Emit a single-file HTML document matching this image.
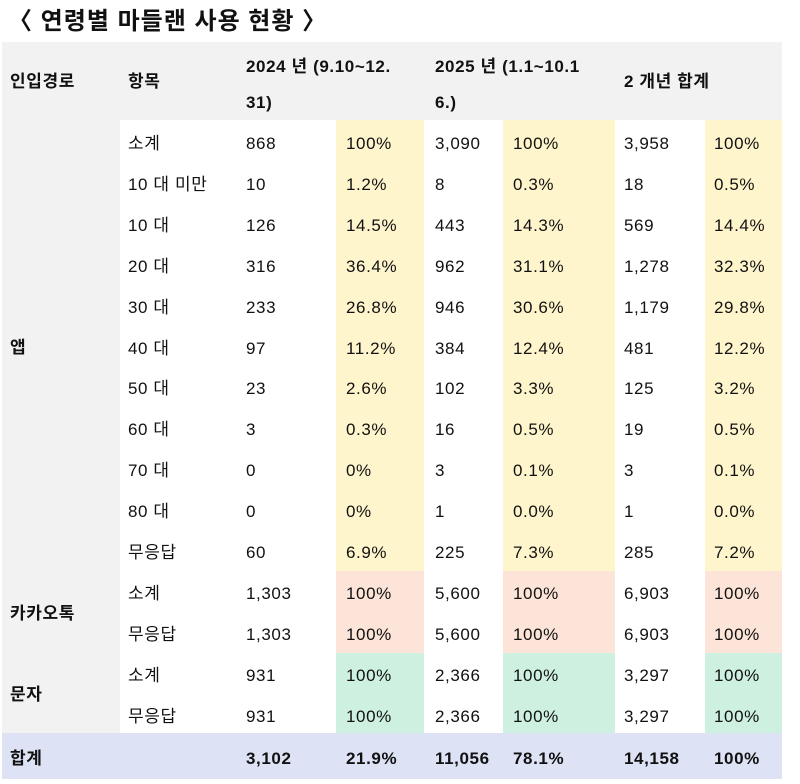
<!DOCTYPE html>
<html><head><meta charset="utf-8"><style>
body{margin:0;width:800px;height:784px;background:#fff;position:relative;overflow:hidden;font-family:"Liberation Sans","Noto Sans CJK KR",sans-serif;color:#111}
.a{position:absolute}
.t{position:absolute;font-size:17px;line-height:20px;white-space:nowrap;letter-spacing:0.6px}
.b{font-weight:bold}
</style></head><body>
<div class="t b" style="left:8px;top:8px;font-size:24px;line-height:28px;letter-spacing:1px">〈 연령별 마들랜 사용 현황 〉</div>
<div class="a" style="left:2px;top:42px;width:780px;height:78px;background:#f2f2f2"></div>
<div class="a" style="left:2px;top:120px;width:118px;height:613px;background:#f2f2f2"></div>
<div class="a" style="left:336px;top:120px;width:88px;height:451px;background:#fff5cc"></div>
<div class="a" style="left:503px;top:120px;width:112px;height:451px;background:#fff5cc"></div>
<div class="a" style="left:705px;top:120px;width:77px;height:451px;background:#fff5cc"></div>
<div class="a" style="left:336px;top:571px;width:88px;height:82px;background:#fde4d8"></div>
<div class="a" style="left:503px;top:571px;width:112px;height:82px;background:#fde4d8"></div>
<div class="a" style="left:705px;top:571px;width:77px;height:82px;background:#fde4d8"></div>
<div class="a" style="left:336px;top:653px;width:88px;height:80px;background:#cdf0e0"></div>
<div class="a" style="left:503px;top:653px;width:112px;height:80px;background:#cdf0e0"></div>
<div class="a" style="left:705px;top:653px;width:77px;height:80px;background:#cdf0e0"></div>
<div class="a" style="left:2px;top:733px;width:780px;height:46px;background:#dde3f5"></div>

<div class="t b" style="left:10px;top:72px">인입경로</div>
<div class="t b" style="left:128px;top:72px">항목</div>
<div class="t b" style="left:246px;top:57px">2024 년 (9.10~12.</div>
<div class="t b" style="left:246px;top:93px">31)</div>
<div class="t b" style="left:435px;top:57px">2025 년 (1.1~10.1</div>
<div class="t b" style="left:435px;top:93px">6.)</div>
<div class="t b" style="left:624px;top:72px">2 개년 합계</div>

<div class="t b" style="left:10px;top:338px">앱</div>
<div class="t b" style="left:10px;top:604px">카카오톡</div>
<div class="t b" style="left:10px;top:685px">문자</div>

<div id="rows"></div>
<script>
var d=[["소계","868","100%","3,090","100%","3,958","100%"],
["10 대 미만","10","1.2%","8","0.3%","18","0.5%"],
["10 대","126","14.5%","443","14.3%","569","14.4%"],
["20 대","316","36.4%","962","31.1%","1,278","32.3%"],
["30 대","233","26.8%","946","30.6%","1,179","29.8%"],
["40 대","97","11.2%","384","12.4%","481","12.2%"],
["50 대","23","2.6%","102","3.3%","125","3.2%"],
["60 대","3","0.3%","16","0.5%","19","0.5%"],
["70 대","0","0%","3","0.1%","3","0.1%"],
["80 대","0","0%","1","0.0%","1","0.0%"],
["무응답","60","6.9%","225","7.3%","285","7.2%"],
["소계","1,303","100%","5,600","100%","6,903","100%"],
["무응답","1,303","100%","5,600","100%","6,903","100%"],
["소계","931","100%","2,366","100%","3,297","100%"],
["무응답","931","100%","2,366","100%","3,297","100%"]];
var xs=[128,246,346,435,513,624,714],h="";
d.forEach(function(r,i){var y=134+i*40.9;r.forEach(function(c,j){h+='<div class="t" style="left:'+xs[j]+'px;top:'+y.toFixed(1)+'px">'+c+'</div>';});});
var tot=["3,102","21.9%","11,056","78.1%","14,158","100%"];
h+='<div class="t b" style="left:10px;top:749px">합계</div>';
tot.forEach(function(c,j){h+='<div class="t b" style="left:'+xs[j+1]+'px;top:749px">'+c+'</div>';});
document.getElementById("rows").innerHTML=h;
</script>
</body></html>
